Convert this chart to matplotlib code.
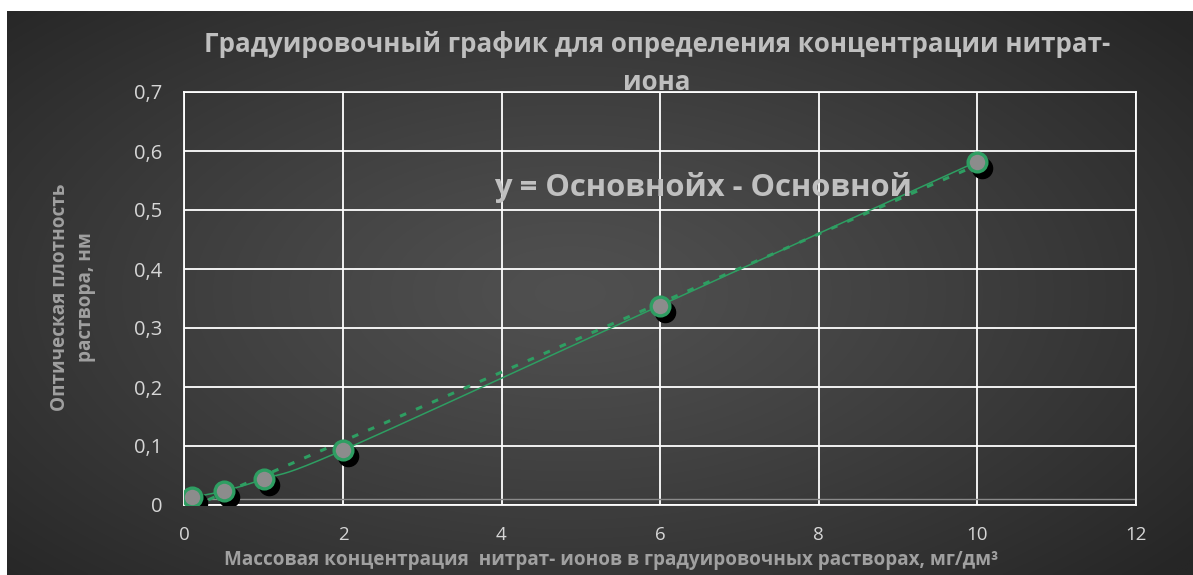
import numpy as np
import matplotlib
matplotlib.use("Agg")
import matplotlib.pyplot as plt
from matplotlib.transforms import offset_copy

# ---- data ----
x_conc = [0.1, 0.5, 1, 2, 6, 10]
y_opt = [0.013, 0.024, 0.044, 0.093, 0.338, 0.582]
x_ticks = [0, 2, 4, 6, 8, 10, 12]
y_ticks = [0, 0.1, 0.2, 0.3, 0.4, 0.5, 0.6, 0.7]
y_tick_labels = ["0", "0,1", "0,2", "0,3", "0,4", "0,5", "0,6", "0,7"]
title_l1 = "Градуировочный график для определения концентрации нитрат-"
title_l2 = "иона"
eq_text = "y = Основнойх - Основной"
xlabel = "Массовая концентрация  нитрат- ионов в градуировочных растворах, мг/дм³"
ylabel = "Оптическая плотность\nраствора, нм"

FONT = ["Open Sans", "DejaVu Sans"]
plt.rcParams['font.family'] = FONT

W, H = 1193, 575
fig = plt.figure(figsize=(W / 100, H / 100), dpi=100)
fig.patch.set_facecolor("white")

# background gradient (chart area)
bg = fig.add_axes([7 / W, 0, 1 - 7 / W, 1 - 11 / H], zorder=-10)
gx = np.linspace(-1, 1, 400)
gy = np.linspace(-1, 1, 200)
GX, GY = np.meshgrid(gx, gy)
R = np.sqrt((GX + 0.05) ** 2 + (GY * 0.9) ** 2)
v = 0x50 - (0x50 - 0x26) * np.clip(R / 1.35, 0, 1) ** 1.2
img = np.dstack([v, v, v]) / 255.0
bg.imshow(img, aspect="auto", extent=[0, 1, 0, 1], interpolation="bilinear")
bg.set_axis_off()

ax = fig.add_axes([184.5 / W, 1 - 505 / H, (1135.5 - 184.5) / W, (505 - 92) / H])
ax.patch.set_alpha(0)
ax.set_xlim(0, 12)
ax.set_ylim(0, 0.7)
ax.set_xticks(x_ticks)
ax.set_yticks(y_ticks)
ax.set_yticklabels(y_tick_labels)
ax.grid(True, color="white", lw=1.3)
ax.set_axisbelow(True)
for s in ax.spines.values():
    s.set_color("white")
    s.set_linewidth(1.3)
ax.tick_params(length=0, colors="#d6d6d6", labelsize=14.5)
ax.tick_params(axis="x", labelsize=13.5, pad=15)
ax.tick_params(axis="y", pad=16)
ax.axhline(0.011, color="#8a8a8a", lw=1.0, zorder=1)

green = "#2e9e62"

# linear trendline (dashed)
k, b0 = np.polyfit(x_conc, y_opt, 1)
tx = np.array([x_conc[0], x_conc[-1]])
ax.plot(tx, k * tx + b0, color=green, lw=2.2, ls=(0, (2.2, 3.5)), zorder=3)

# smoothed connecting line (Catmull-Rom)
def catmull(px, py, n=30):
    px = np.asarray(px, float); py = np.asarray(py, float)
    P = np.column_stack([px, py])
    P = np.vstack([P[0] - (P[1] - P[0]), P, P[-1] + (P[-1] - P[-2])])
    out = []
    for i in range(1, len(P) - 2):
        p0, p1, p2, p3 = P[i - 1], P[i], P[i + 1], P[i + 2]
        t = np.linspace(0, 1, n)[:, None]
        c = 0.5 * ((2 * p1) + (-p0 + p2) * t + (2 * p0 - 5 * p1 + 4 * p2 - p3) * t ** 2
                   + (-p0 + 3 * p1 - 3 * p2 + p3) * t ** 3)
        out.append(c)
    c = np.vstack(out)
    return c[:, 0], c[:, 1]

sx, sy = catmull(x_conc, y_opt)
ax.plot(sx, sy, color=green, lw=1.1, zorder=3)

# markers with shadow
shadow_tr = offset_copy(ax.transData, fig=fig, x=5, y=-6, units="dots")
ax.plot(x_conc, y_opt, ls="none", marker="o", ms=14.5, mfc="black", mec="black",
        transform=shadow_tr, zorder=4)
ax.plot(x_conc, y_opt, ls="none", marker="o", ms=13.5, mfc="#8c8c8c", mec=green,
        mew=2.4, zorder=5)

# equation text
fig.text(703 / W, 1 - 188 / H, eq_text, ha="center", va="center",
         fontsize=22.3, fontweight="bold", color="#c0c0c0")

# titles
fig.text(657 / W, 1 - 45 / H, title_l1, ha="center", va="center",
         fontsize=18.6, fontweight="bold", color="#bfbfbf")
fig.text(657 / W, 1 - 83 / H, title_l2, ha="center", va="center",
         fontsize=18.6, fontweight="bold", color="#bfbfbf")

# axis labels
fig.text(611 / W, 1 - 560 / H, xlabel, ha="center", va="center",
         fontsize=13.6, fontweight="bold", color="#a0a0a0")
fig.text(73 / W, 1 - 297 / H, ylabel, ha="center", va="center", rotation=90,
         fontsize=13.6, fontweight="bold", color="#a0a0a0", linespacing=1.45)

fig.savefig("out.png", dpi=100, facecolor=fig.get_facecolor())
